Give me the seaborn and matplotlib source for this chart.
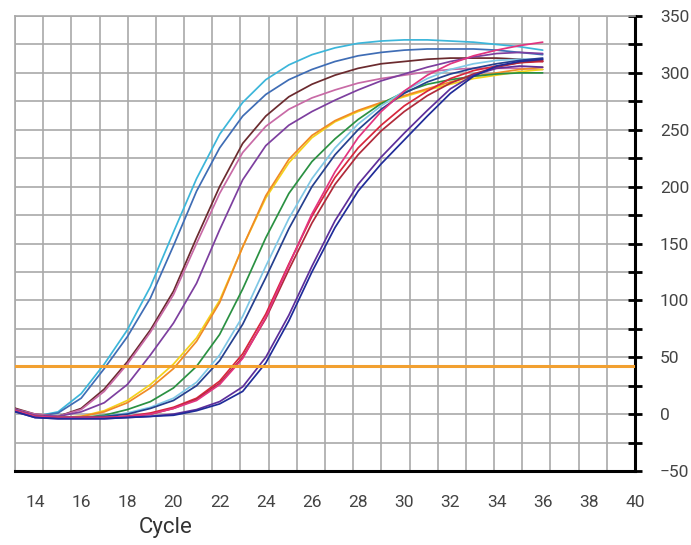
import numpy as np
import pandas as pd
import matplotlib
matplotlib.use("Agg")
import matplotlib.pyplot as plt
import seaborn as sns

# ---- data ----
cycles = list(range(13, 37))

cyan     = [4, -2, 2, 18, 44, 74, 112, 160, 207, 246, 274, 294, 307, 316, 322, 326, 328, 329, 329, 328, 327, 325, 323, 320]
steel    = [3, -2, 1, 14, 40, 68, 102, 148, 196, 234, 262, 281, 294, 303, 310, 315, 318, 320, 321, 321, 321, 320, 318, 316]
brown    = [6, 0, -2, 5, 22, 46, 74, 108, 155, 200, 238, 262, 279, 290, 298, 304, 308, 310, 312, 313, 313, 313, 312, 310]
mauve    = [5, 0, -2, 4, 20, 44, 72, 105, 150, 194, 230, 253, 268, 278, 285, 291, 295, 298, 301, 303, 304, 304, 304, 303]
purple   = [5, -1, -2, 2, 10, 26, 52, 80, 115, 162, 206, 236, 254, 266, 276, 285, 293, 299, 305, 310, 314, 317, 318, 317]
yellow   = [4, -2, -3, -2, 3, 12, 26, 44, 67, 100, 147, 190, 221, 243, 257, 266, 273, 279, 285, 290, 295, 298, 301, 303]
orange   = [4, -2, -3, -2, 2, 10, 23, 40, 64, 98, 147, 192, 224, 245, 258, 267, 274, 280, 286, 292, 297, 300, 303, 305]
green    = [4, -2, -3, -3, -1, 4, 11, 23, 42, 70, 110, 155, 194, 222, 242, 259, 273, 283, 290, 294, 297, 299, 300, 300]
skyblue  = [4, -2, -3, -3, -2, 1, 6, 14, 28, 52, 86, 130, 172, 207, 234, 255, 271, 284, 295, 303, 308, 311, 312, 312]
navy     = [4, -2, -3, -3, -2, 0, 5, 12, 25, 47, 79, 120, 163, 200, 228, 250, 268, 282, 292, 299, 304, 308, 311, 313]
red      = [4, -2, -3, -3, -3, -2, 1, 6, 14, 29, 53, 88, 132, 174, 208, 234, 254, 271, 284, 295, 302, 306, 309, 310]
darkred  = [4, -2, -3, -3, -3, -2, 0, 5, 13, 27, 50, 84, 127, 168, 202, 228, 249, 266, 280, 291, 299, 305, 309, 311]
magenta  = [4, -2, -3, -3, -3, -2, 0, 5, 12, 26, 49, 85, 131, 176, 213, 243, 266, 284, 298, 308, 315, 320, 324, 327]
violet   = [3, -3, -4, -4, -4, -3, -2, 0, 4, 11, 24, 50, 87, 130, 170, 202, 226, 247, 267, 286, 298, 304, 306, 305]
darkblue = [3, -3, -4, -4, -4, -3, -2, -1, 3, 9, 20, 45, 82, 125, 164, 196, 220, 241, 262, 282, 297, 306, 310, 312]

threshold = 42.5

series = {
    "cyan": cyan, "steel": steel, "brown": brown, "mauve": mauve, "purple": purple,
    "yellow": yellow, "orange": orange, "green": green, "skyblue": skyblue, "navy": navy,
    "red": red, "darkred": darkred, "magenta": magenta, "violet": violet, "darkblue": darkblue,
}
palette = {
    "cyan": "#3cb6da", "steel": "#3f6db5", "brown": "#6b2a2e", "mauve": "#c86aa6",
    "purple": "#7d3f9f", "yellow": "#f4d21c", "orange": "#f08a25", "green": "#2a9142",
    "skyblue": "#80c8e6", "navy": "#24408f", "red": "#d8263c", "darkred": "#b02a3a",
    "magenta": "#e2347f", "violet": "#5e2e9b", "darkblue": "#1f2b99",
}

df = pd.concat(
    [pd.DataFrame({"cycle": cycles, "value": v, "well": k}) for k, v in series.items()],
    ignore_index=True,
)

# ---- figure ----
sns.set_style("white")
fig = plt.figure(figsize=(6.91, 5.45), dpi=100)
ax = fig.add_axes([15 / 691, 1 - 471 / 545, (635 - 15) / 691, (471 - 16) / 545])

xmin, xmax = 13.133, 40.0
ymin, ymax = -50, 350

sns.lineplot(data=df, x="cycle", y="value", hue="well", palette=palette,
             estimator=None, sort=False, legend=False, linewidth=1.25, ax=ax, zorder=3)

ax.axhline(threshold, color="#f2a030", linewidth=2.2, zorder=4)

ax.set_xlim(xmin, xmax)
ax.set_ylim(ymin, ymax)

# grid / ticks
xgrid = np.linspace(xmin, xmax, 23)
ax.set_xticks(np.arange(14, 41, 2))
ax.set_xticks(xgrid, minor=True)
ax.set_yticks(np.arange(-50, 351, 50))
ax.set_yticks(np.arange(-50, 351, 25), minor=True)

ax.grid(which="minor", color="#a9a9a9", linewidth=1.2)
ax.grid(which="major", axis="x", visible=False)
ax.grid(which="major", axis="y", color="#a9a9a9", linewidth=1.2)
ax.set_axisbelow(True)

ax.yaxis.tick_right()
ax.tick_params(axis="x", which="major", length=0, pad=17, labelsize=12.5, labelcolor="#444444")
ax.tick_params(axis="x", which="minor", direction="inout", length=10, width=2, color="black")
ax.tick_params(axis="y", which="both", direction="inout", length=10, width=2, color="black",
               right=True, left=False)
ax.tick_params(axis="y", which="major", pad=13, labelsize=12.5, labelcolor="#444444")

for lab in ax.get_xticklabels() + ax.get_yticklabels():
    lab.set_fontfamily("Roboto")

for side in ("left", "top"):
    ax.spines[side].set_color("#a9a9a9")
    ax.spines[side].set_linewidth(1.2)
for side in ("right", "bottom"):
    ax.spines[side].set_color("black")
    ax.spines[side].set_linewidth(2.2)

ax.set_xlabel("")
ax.set_ylabel("")
fig.text(166 / 691, 1 - 527 / 545, "Cycle", ha="center", va="center",
         fontsize=16, color="#333333", family="Roboto")

fig.savefig("out.png", dpi=100, facecolor="white")
